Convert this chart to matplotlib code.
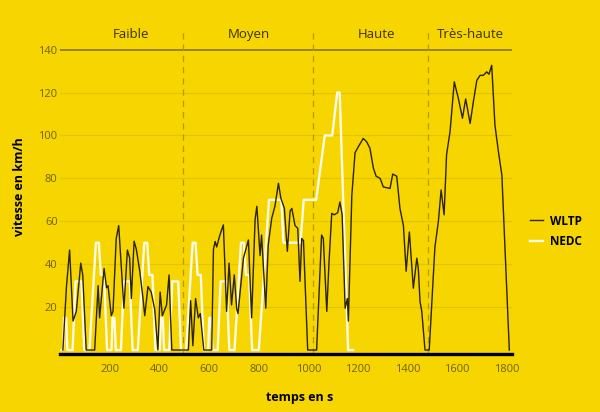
import matplotlib
matplotlib.use('Agg')
import matplotlib.pyplot as plt

plt.rcParams['font.family'] = ['Open Sans', 'DejaVu Sans']

# WLTP cycle (time in s, speed in km/h)
wltp_t = [10, 24, 37, 51, 64, 82, 90, 104, 138, 152, 158, 176, 186, 192, 205, 212, 225, 235,
          256, 270, 279, 286, 297, 306, 320, 333, 340, 353, 366, 380, 393, 402, 411, 428, 438,
          449, 516, 525, 534, 545, 556, 564, 578, 610, 617, 624, 630, 643, 657, 670, 680, 690,
          701, 711, 716, 738, 758, 771, 785, 792, 805, 811, 828, 838, 852, 865, 879, 889, 903,
          915, 926, 933, 946, 957, 966, 973, 980, 997, 1033, 1053, 1060, 1074, 1083, 1094, 1104,
          1118, 1127, 1136, 1148, 1157, 1161, 1175, 1188, 1201, 1221, 1235, 1248, 1262, 1273,
          1289, 1302, 1329, 1340, 1356, 1369, 1383, 1394, 1407, 1423, 1437, 1443, 1450, 1457,
          1470, 1487, 1510, 1524, 1535, 1547, 1557, 1571, 1588, 1605, 1621, 1634, 1652, 1665,
          1679, 1692, 1705, 1719, 1728, 1739, 1752, 1766, 1780, 1810]
wltp_v = [0, 29, 46.6, 13.5, 18, 40.5, 35, 0, 0, 30, 15, 38, 29, 30, 16, 18, 52, 58,
          19.5, 46.6, 43, 24, 50.7, 47, 36.7, 24, 16, 29.6, 27, 19, 0, 27, 16, 21, 35,
          0, 0, 23, 2, 24, 15, 17, 0, 0, 47, 50.6, 48, 53.6, 58.3, 18, 40.5, 21,
          35, 19, 17, 42.8, 51.3, 15, 61, 67, 44, 53.6, 19.5, 49, 61.4, 67, 77.7, 70.7, 66,
          46, 64.7, 66, 58, 56.7, 32, 52, 51, 0, 0, 53.6, 52, 18, 41, 63.7, 63,
          64, 69, 63, 19.5, 24, 13.5, 72, 92, 94.7, 98.6, 97, 94, 84.7, 81,
          80, 76, 75.3, 82, 81, 66, 58, 36.7, 55, 28.8, 42.8, 38, 22.6, 18,
          0, 0, 48, 60, 74.6, 63, 91, 101.8, 125, 117, 108, 117, 105.6, 115.7,
          125.7, 128, 128, 129.6, 128.5, 132.7, 104.8, 92.5, 81.5, 0]

# NEDC cycle
nedc_t = [0, 11, 15, 23, 28, 49, 61, 85, 96, 117, 143, 155, 163, 176, 188,
          195, 206, 210, 218, 223, 244, 256, 280, 291, 312, 338, 350, 358, 371, 383,
          390, 401, 405, 413, 418, 439, 451, 475, 486, 507, 533, 545, 553, 566, 578,
          585, 596, 600, 608, 613, 634, 646, 670, 681, 702, 728, 740, 748, 761, 773,
          780, 800, 841, 891, 899, 968, 981, 1031, 1066, 1096, 1116, 1126, 1160, 1180]
nedc_v = [0, 0, 15, 15, 0, 0, 32, 32, 0, 0, 50, 50, 35, 35, 0,
          0, 0, 15, 15, 0, 0, 32, 32, 0, 0, 50, 50, 35, 35, 0,
          0, 0, 15, 15, 0, 0, 32, 32, 0, 0, 50, 50, 35, 35, 0,
          0, 0, 15, 15, 0, 0, 32, 32, 0, 0, 50, 50, 35, 35, 0,
          0, 0, 70, 70, 50, 50, 70, 70, 100, 100, 120, 120, 0, 0]

phase_names = ['Faible', 'Moyen', 'Haute', 'Très-haute']
phase_centers = [283, 760, 1273, 1654]
phase_limits = [496, 1018, 1484]

yellow = '#f6d500'
olive = '#6e6200'

fig = plt.figure(figsize=(6, 4.12), dpi=100, facecolor=yellow)
ax = fig.add_axes([0.1007, 0.140, 0.7523, 0.7917], facecolor=yellow)

for y in [20, 40, 60, 80, 100, 120]:
    ax.axhline(y, color='#e3c400', lw=0.8, zorder=0)
ax.axhline(140, color='#7d6f00', lw=1.1, zorder=1)

for x in phase_limits:
    ax.axvline(x, color='#b09a00', lw=0.9, dashes=(5, 4), zorder=1)

ax.plot(nedc_t, nedc_v, color='#fffbe6', lw=1.7, zorder=3, label='NEDC')
ax.plot(wltp_t, wltp_v, color='#2a2400', lw=1.0, zorder=4, label='WLTP')

for name, xc in zip(phase_names, phase_centers):
    ax.text(xc, 147, name, ha='center', va='center', fontsize=9.5, color='#3a3300')

ax.set_xlim(0, 1820)
ax.set_ylim(-2, 150)
ax.set_xticks([200, 400, 600, 800, 1000, 1200, 1400, 1600, 1800])
ax.set_yticks([20, 40, 60, 80, 100, 120, 140])
ax.tick_params(length=0, labelsize=8, labelcolor=olive)
ax.tick_params(axis='x', pad=7)
ax.tick_params(axis='y', pad=2)

for s in ['top', 'left', 'right']:
    ax.spines[s].set_visible(False)
ax.spines['bottom'].set_linewidth(2.4)
ax.spines['bottom'].set_color('black')
ax.spines['bottom'].set_zorder(5)

ax.set_xlabel('temps en s', fontsize=9, fontweight='bold', color='black')
ax.set_ylabel('vitesse en km/h', fontsize=9, fontweight='bold', color='black')
ax.xaxis.set_label_coords(0.529, -0.113)
ax.yaxis.set_label_coords(-0.076, 0.513)

handles, labels = ax.get_legend_handles_labels()
leg = fig.legend(handles[::-1], labels[::-1], loc='upper left', bbox_to_anchor=(0.865, 0.505),
                 frameon=False, handlelength=1.1, handletextpad=0.6, labelspacing=0.6,
                 prop={'weight': 'bold', 'size': 8.5})

fig.savefig('out.png', dpi=100, facecolor=yellow)
